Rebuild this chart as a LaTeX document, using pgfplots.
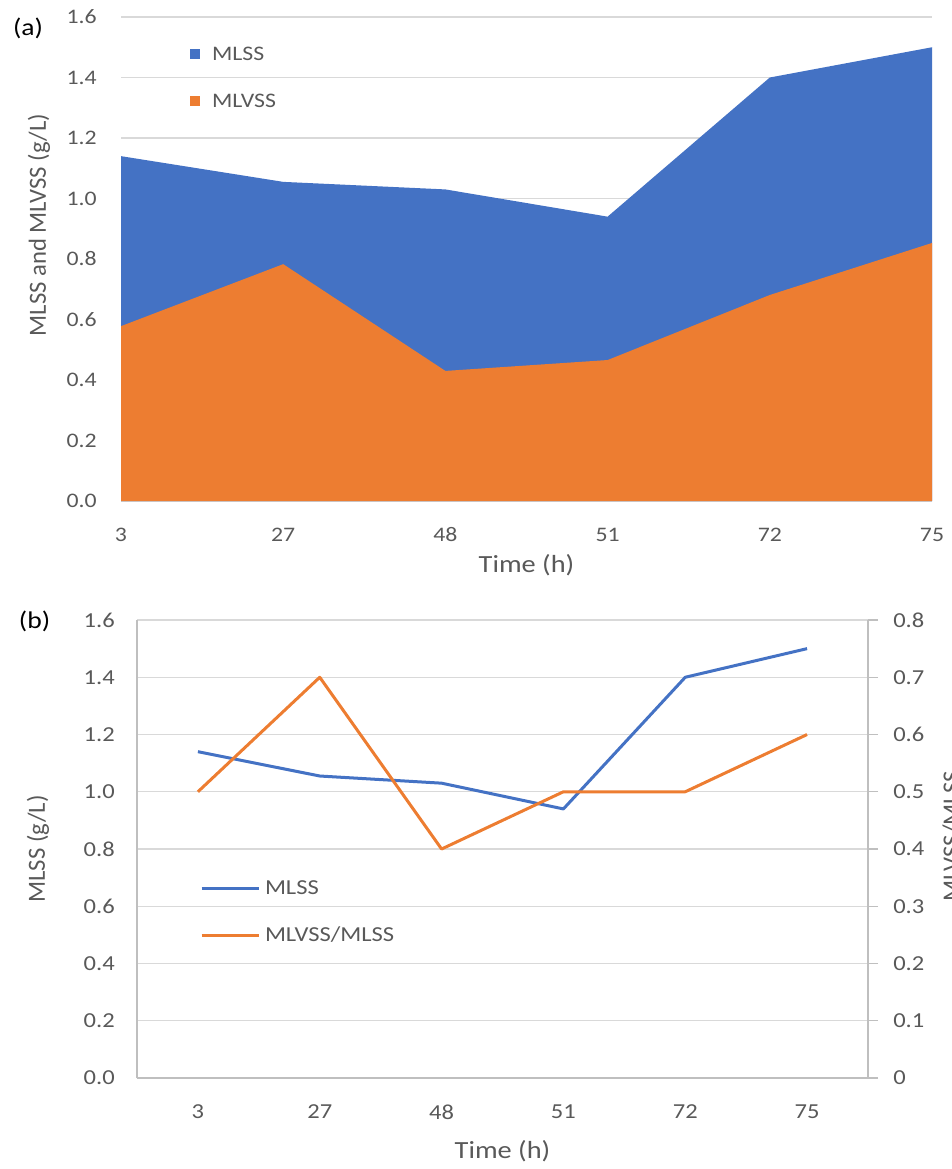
\documentclass[border=0pt]{standalone}
\usepackage{pgfplots}
\pgfplotsset{compat=1.18}
\usepackage{fontspec}
\setmainfont{Carlito}
\newfontfamily\wide{Carlito}[FakeStretch=1.15]
\definecolor{mblue}{HTML}{4472C4}
\definecolor{morange}{HTML}{ED7D31}
\definecolor{txtgray}{HTML}{595959}
\definecolor{gridgray}{HTML}{D9D9D9}
\definecolor{axgray}{HTML}{BFBFBF}

\begin{document}
\begin{tikzpicture}
\useasboundingbox (0pt,0pt) rectangle (713.25pt,-876.75pt);
\begin{scope}
\clip (0pt,0pt) rectangle (713.25pt,-876.75pt);

% ---------- (a) ----------
\begin{axis}[
  at={(90.75pt,-375.75pt)}, anchor=south west,
  scale only axis, width=608.25pt, height=363pt,
  xmin=0, xmax=5, ymin=0, ymax=1.6,
  xtick={0,1,2,3,4,5}, xticklabels={3,27,48,51,72,75},
  ytick={0,0.2,0.4,0.6,0.8,1.0,1.2,1.4,1.6},
  /pgf/number format/fixed, /pgf/number format/fixed zerofill,
  /pgf/number format/precision=1, /pgf/number format/assume math mode=true,
  ymajorgrids, grid style={color=gridgray, line width=1.1pt},
  axis x line*=bottom, axis y line*=left,
  x axis line style={color=gridgray, line width=1.1pt},
  y axis line style={draw=none},
  major tick length=0pt,
  tick label style={font=\wide\fontsize{15.5}{18}\selectfont, text=txtgray},
  yticklabel style={anchor=east, inner sep=0pt, xshift=-18pt},
  xticklabel style={anchor=center, inner sep=0pt, yshift=-25.5pt},
  xlabel={Time (h)}, ylabel={MLSS and MLVSS (g/L)},
  xlabel style={font=\wide\fontsize{18.5}{22}\selectfont, text=txtgray,
    at={(axis description cs:0.5,-0.1322)}, anchor=center, inner sep=0pt},
  ylabel style={font=\fontsize{18.5}{22}\selectfont, text=txtgray,
    at={(axis description cs:-0.1011,0.570)}, anchor=center, inner sep=0pt},
  legend style={at={(axis description cs:0.0851,0.8748)}, anchor=west,
    draw=none, fill=none, inner sep=0pt, outer sep=0pt,
    row sep=20.25pt, column sep=8.8pt,
    font=\wide\fontsize{15.5}{18}\selectfont, text=txtgray,
    nodes={inner sep=0pt, text height=12pt, text depth=3pt}},
  legend cell align=left,
  legend image code/.code={\fill[#1] (0pt,-3.9pt) rectangle (7.8pt,3.9pt);},
]
\addplot[fill=mblue, draw=none] coordinates {(0,1.14) (1,1.055) (2,1.03) (3,0.94) (4,1.40) (5,1.50)} \closedcycle;
\addlegendentry{MLSS}
\addplot[fill=morange, draw=none] coordinates {(0,0.578) (1,0.783) (2,0.43) (3,0.466) (4,0.681) (5,0.853)} \closedcycle;
\addlegendentry{MLVSS}
\end{axis}

% ---------- (b) left axis ----------
\begin{axis}[
  at={(102.75pt,-808.5pt)}, anchor=south west,
  scale only axis, width=548.25pt, height=343.5pt,
  xmin=-0.5, xmax=5.5, ymin=0, ymax=1.6,
  xtick={0,1,2,3,4,5}, xticklabels={3,27,48,51,72,75},
  ytick={0,0.2,0.4,0.6,0.8,1.0,1.2,1.4,1.6},
  /pgf/number format/fixed, /pgf/number format/fixed zerofill,
  /pgf/number format/precision=1, /pgf/number format/assume math mode=true,
  ymajorgrids, grid style={color=gridgray, line width=1.1pt},
  axis x line*=bottom, axis y line*=left,
  axis line style={color=axgray, line width=1.1pt},
  major tick length=0pt,
  tick label style={font=\wide\fontsize{16}{18}\selectfont, text=txtgray},
  yticklabel style={anchor=east, inner sep=0pt, xshift=-16.5pt},
  xticklabel style={anchor=center, inner sep=0pt, yshift=-25.5pt},
  xlabel={Time (h)}, ylabel={MLSS (g/L)},
  xlabel style={font=\wide\fontsize{18.5}{22}\selectfont, text=txtgray,
    at={(axis description cs:0.5,-0.1594)}, anchor=center, inner sep=0pt},
  ylabel style={font=\fontsize{18.5}{22}\selectfont, text=txtgray,
    at={(axis description cs:-0.1354,0.5)}, anchor=center, inner sep=0pt},
  legend style={at={(axis description cs:0.0862,0.3614)}, anchor=west,
    draw=none, fill=none, inner sep=0pt, outer sep=0pt,
    row sep=20.25pt, column sep=3.75pt,
    font=\wide\fontsize{16}{18}\selectfont, text=txtgray,
    nodes={inner sep=0pt, text height=12pt, text depth=3pt}},
  legend cell align=left,
  legend image code/.code={\draw[#1] (0pt,0pt) -- (42.75pt,0pt);},
]
\addplot[mblue, line width=2.25pt, line join=round] coordinates {(0,1.14) (1,1.055) (2,1.03) (3,0.94) (4,1.40) (5,1.50)};
\addlegendentry{MLSS}
\addlegendimage{morange, line width=2.25pt}
\addlegendentry{MLVSS/MLSS}
\end{axis}

% ---------- (b) right axis ----------
\begin{axis}[
  at={(102.75pt,-808.5pt)}, anchor=south west,
  scale only axis, width=548.25pt, height=343.5pt,
  xmin=-0.5, xmax=5.5, ymin=0, ymax=0.8,
  xtick=\empty,
  ytick={0,0.1,0.2,0.3,0.4,0.5,0.6,0.7,0.8},
  /pgf/number format/fixed, /pgf/number format/precision=1,
  /pgf/number format/assume math mode=true,
  axis x line=none, axis y line*=right,
  axis line style={color=axgray, line width=1.1pt},
  y tick style={color=axgray, line width=1.1pt},
  tick align=outside, major tick length=7.5pt,
  tick label style={font=\wide\fontsize{16}{18}\selectfont, text=txtgray},
  yticklabel style={anchor=west, inner sep=0pt, xshift=11.25pt},
  ylabel={MLVSS/MLSS},
  ylabel style={font=\fontsize{18.5}{22}\selectfont, text=txtgray,
    at={(axis description cs:1.1253,0.528)}, anchor=base, inner sep=0pt},
]
\addplot[morange, line width=2.25pt, line join=round] coordinates {(0,0.5) (1,0.7) (2,0.4) (3,0.5) (4,0.5) (5,0.6)};
\end{axis}

\node[font=\wide\fontsize{18}{22}\selectfont, inner sep=0pt] at (21pt,-21.4pt) {(a)};
\node[font=\wide\fontsize{18}{22}\selectfont, inner sep=0pt] at (25.9pt,-466.1pt) {(b)};
\end{scope}
\end{tikzpicture}
\end{document}
